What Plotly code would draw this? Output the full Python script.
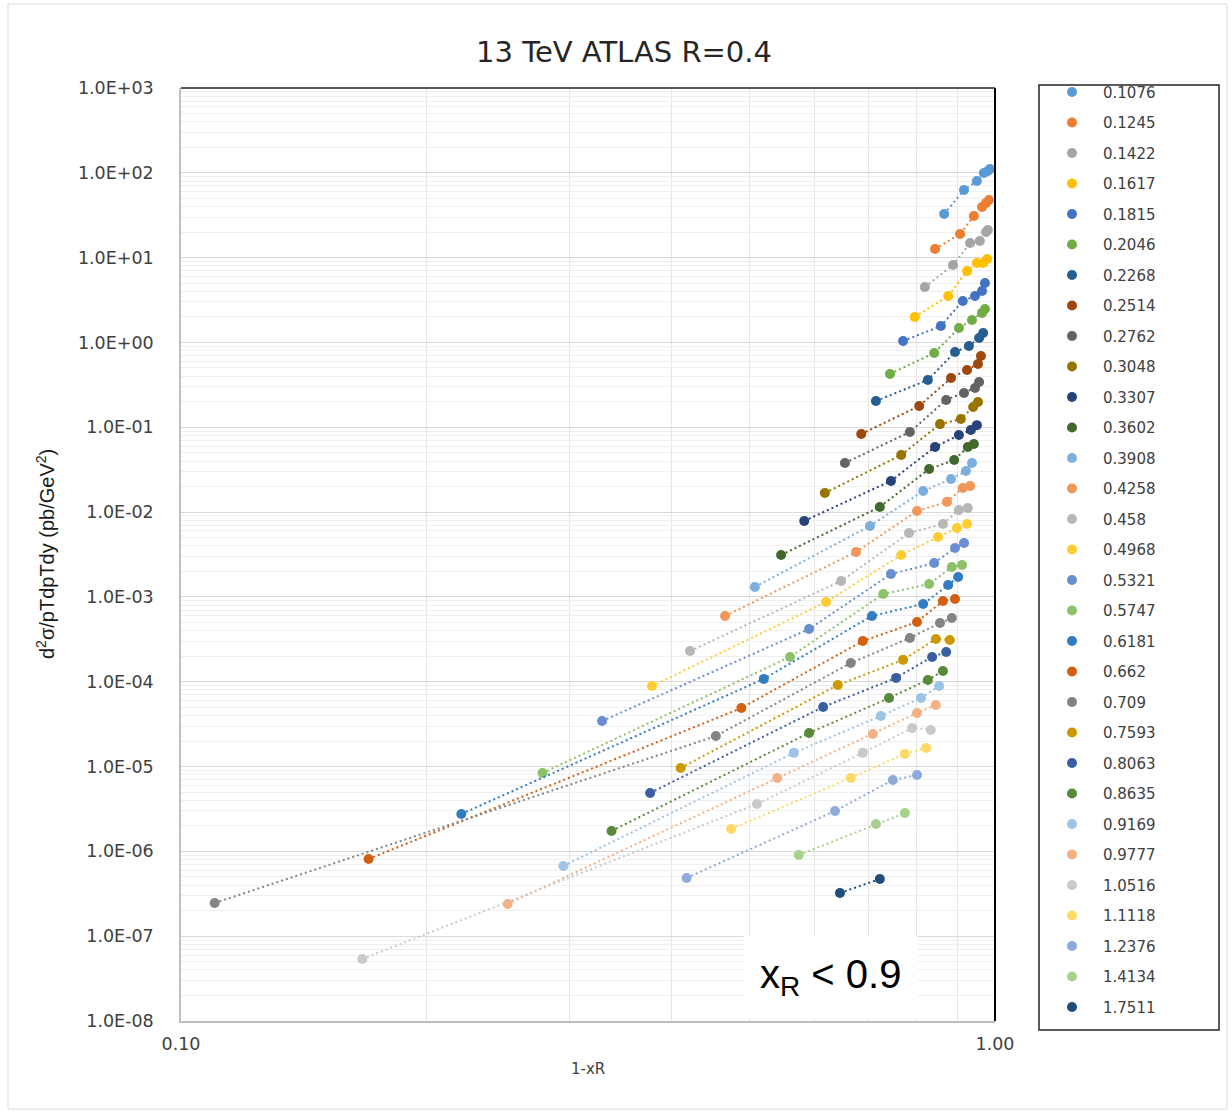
import plotly.graph_objects as go

# ---------------------------------------------------------------- data
# legend labels (jet pT bin, TeV) and series colours
pt_labels = ["0.1076", "0.1245", "0.1422", "0.1617", "0.1815", "0.2046", "0.2268",
             "0.2514", "0.2762", "0.3048", "0.3307", "0.3602", "0.3908", "0.4258",
             "0.458", "0.4968", "0.5321", "0.5747", "0.6181", "0.662", "0.709",
             "0.7593", "0.8063", "0.8635", "0.9169", "0.9777", "1.0516", "1.1118",
             "1.2376", "1.4134", "1.7511"]

colors = ["#5B9BD5", "#ED7D31", "#A5A5A5", "#FFC000", "#4472C4", "#70AD47", "#255E91",
          "#9E480E", "#636363", "#997300", "#264478", "#43682B", "#7CAFDD", "#F1975A",
          "#B7B7B7", "#FFCD33", "#698ED0", "#8CC168", "#327DC2", "#D26012", "#848484",
          "#CC9A00", "#3A5FA0", "#5A8A39", "#9DC3E6", "#F4B183", "#C9C9C9", "#FFD966",
          "#8FAADC", "#A9D18E", "#1F4E79"]

# 1 - xR  and  d2sigma/pT dpT dy  (pb/GeV^2) for every pT bin
x_0_1076 = [0.866, 0.916, 0.950, 0.969, 0.980, 0.986]
y_0_1076 = [32.7, 62.7, 80.1, 99.5, 105.0, 111.0]
x_0_1245 = [0.844, 0.906, 0.942, 0.964, 0.975, 0.983]
y_0_1245 = [12.65, 19.0, 31.0, 39.5, 44.1, 47.8]
x_0_1422 = [0.820, 0.888, 0.932, 0.958, 0.975, 0.980]
y_0_1422 = [4.51, 8.19, 14.9, 15.7, 20.1, 21.2]
x_0_1617 = [0.797, 0.876, 0.924, 0.950, 0.967, 0.978]
y_0_1617 = [2.00, 3.53, 6.96, 8.65, 8.65, 9.64]
x_0_1815 = [0.771, 0.858, 0.913, 0.945, 0.964, 0.972]
y_0_1815 = [1.04, 1.56, 3.08, 3.53, 4.04, 5.02]
x_0_2046 = [0.743, 0.842, 0.903, 0.937, 0.964, 0.972]
y_0_2046 = [0.425, 0.751, 1.48, 1.84, 2.23, 2.48]
x_0_2268 = [0.714, 0.827, 0.893, 0.929, 0.956, 0.967]
y_0_2268 = [0.204, 0.361, 0.772, 0.908, 1.13, 1.29]
x_0_2514 = [0.685, 0.807, 0.883, 0.924, 0.953, 0.961]
y_0_2514 = [0.0833, 0.178, 0.381, 0.474, 0.557, 0.693]
x_0_2762 = [0.654, 0.786, 0.871, 0.916, 0.945, 0.956]
y_0_2762 = [0.0379, 0.0880, 0.210, 0.254, 0.291, 0.342]
x_0_3048 = [0.618, 0.767, 0.856, 0.908, 0.940, 0.953]
y_0_3048 = [0.0168, 0.0471, 0.109, 0.125, 0.173, 0.199]
x_0_3307 = [0.583, 0.745, 0.844, 0.903, 0.934, 0.950]
y_0_3307 = [0.00786, 0.0233, 0.0586, 0.0811, 0.0929, 0.106]
x_0_3602 = [0.546, 0.722, 0.830, 0.891, 0.926, 0.942]
y_0_3602 = [0.00312, 0.0115, 0.0322, 0.0411, 0.0586, 0.0635]
x_0_3908 = [0.507, 0.702, 0.816, 0.883, 0.921, 0.937]
y_0_3908 = [0.00131, 0.00686, 0.0177, 0.0246, 0.0305, 0.0379]
x_0_4258 = [0.466, 0.675, 0.802, 0.873, 0.913, 0.932]
y_0_4258 = [0.000596, 0.00338, 0.0103, 0.0132, 0.0192, 0.0203]
x_0_458 = [0.422, 0.647, 0.784, 0.863, 0.903, 0.926]
y_0_458 = [0.000230, 0.00154, 0.00567, 0.00724, 0.0106, 0.0112]
x_0_4968 = [0.379, 0.620, 0.767, 0.851, 0.898, 0.924]
y_0_4968 = [8.91e-05, 0.000871, 0.00312, 0.00509, 0.00649, 0.00724]
x_0_5321 = [0.329, 0.591, 0.745, 0.842, 0.893, 0.916]
y_0_5321 = [3.44e-05, 0.000418, 0.00186, 0.00251, 0.00377, 0.00432]
x_0_5747 = [0.278, 0.560, 0.729, 0.830, 0.885, 0.911]
y_0_5747 = [8.39e-06, 0.000196, 0.00108, 0.00142, 0.00225, 0.00238]
x_0_6181 = [0.221, 0.520, 0.706, 0.816, 0.876, 0.901]
y_0_6181 = [2.76e-06, 0.000108, 0.000596, 0.000825, 0.00138, 0.00172]
x_0_662 = [0.170, 0.488, 0.688, 0.802, 0.863, 0.893]
y_0_662 = [8.13e-07, 4.90e-05, 0.000302, 0.000506, 0.000895, 0.000945]
x_0_709 = [0.110, 0.454, 0.665, 0.786, 0.856, 0.885]
y_0_709 = [2.46e-07, 2.29e-05, 0.000166, 0.000328, 0.000493, 0.000564]
x_0_7593 = [0.411, 0.641, 0.771, 0.846, 0.880]
y_0_7593 = [9.62e-06, 9.15e-05, 0.000181, 0.000319, 0.000311]
x_0_8063 = [0.377, 0.615, 0.756, 0.837, 0.871]
y_0_8063 = [4.88e-06, 5.04e-05, 0.000111, 0.000196, 0.000224]
x_0_8635 = [0.338, 0.591, 0.741, 0.827, 0.863]
y_0_8635 = [1.74e-06, 2.49e-05, 6.43e-05, 0.000105, 0.000134]
x_0_9169 = [0.295, 0.566, 0.724, 0.811, 0.854]
y_0_9169 = [6.73e-07, 1.45e-05, 3.95e-05, 6.43e-05, 8.91e-05]
x_0_9777 = [0.252, 0.540, 0.708, 0.802, 0.846]
y_0_9777 = [2.40e-07, 7.33e-06, 2.42e-05, 4.28e-05, 5.32e-05]
x_1_0516 = [0.167, 0.510, 0.688, 0.791, 0.834]
y_1_0516 = [5.38e-08, 3.62e-06, 1.45e-05, 2.85e-05, 2.70e-05]
x_1_1118 = [0.474, 0.665, 0.775, 0.823]
y_1_1118 = [1.84e-06, 7.33e-06, 1.41e-05, 1.66e-05]
x_1_2376 = [0.418, 0.636, 0.749, 0.802]
y_1_2376 = [4.86e-07, 2.99e-06, 6.94e-06, 7.95e-06]
x_1_4134 = [0.574, 0.714, 0.775]
y_1_4134 = [9.06e-07, 2.10e-06, 2.83e-06]
x_1_7511 = [0.645, 0.722]
y_1_7511 = [3.23e-07, 4.73e-07]

xs = [x_0_1076, x_0_1245, x_0_1422, x_0_1617, x_0_1815, x_0_2046, x_0_2268, x_0_2514,
      x_0_2762, x_0_3048, x_0_3307, x_0_3602, x_0_3908, x_0_4258, x_0_458, x_0_4968,
      x_0_5321, x_0_5747, x_0_6181, x_0_662, x_0_709, x_0_7593, x_0_8063, x_0_8635,
      x_0_9169, x_0_9777, x_1_0516, x_1_1118, x_1_2376, x_1_4134, x_1_7511]
ys = [y_0_1076, y_0_1245, y_0_1422, y_0_1617, y_0_1815, y_0_2046, y_0_2268, y_0_2514,
      y_0_2762, y_0_3048, y_0_3307, y_0_3602, y_0_3908, y_0_4258, y_0_458, y_0_4968,
      y_0_5321, y_0_5747, y_0_6181, y_0_662, y_0_709, y_0_7593, y_0_8063, y_0_8635,
      y_0_9169, y_0_9777, y_1_0516, y_1_1118, y_1_2376, y_1_4134, y_1_7511]

# axis ticks
y_tick_vals = [1e3, 1e2, 1e1, 1e0, 1e-1, 1e-2, 1e-3, 1e-4, 1e-5, 1e-6, 1e-7, 1e-8]
y_tick_text = ["1.0E+03", "1.0E+02", "1.0E+01", "1.0E+00", "1.0E-01", "1.0E-02",
               "1.0E-03", "1.0E-04", "1.0E-05", "1.0E-06", "1.0E-07", "1.0E-08"]
x_tick_vals = [0.1, 1.0]
x_tick_text = ["0.10", "1.00"]

# ---------------------------------------------------------------- layout geometry
W, H = 1232, 1112
PL, PR, PT, PB = 181, 995, 88, 1021      # plot-area edges in px


def px_x(px):
    return (px - PL) / (PR - PL)


def px_y(py):
    return (PB - py) / (PB - PT)


y_minor = [m * 10.0 ** e for e in range(-8, 3) for m in range(2, 10)]
x_minor = [m / 10 for m in range(2, 10)]

fig = go.Figure()

for name, col, xv, yv in zip(pt_labels, colors, xs, ys):
    fig.add_trace(go.Scatter(
        x=xv, y=yv, mode="lines", legendgroup=name, showlegend=False,
        line=dict(color=col, width=2, dash="2px,3px"), hoverinfo="skip"))
    fig.add_trace(go.Scatter(
        x=xv, y=yv, mode="markers", name=name, legendgroup=name,
        marker=dict(color=col, size=10, line=dict(width=0))))

tick_font = dict(family="DejaVu Sans", size=17.5, color="#404040")

fig.update_layout(
    width=W, height=H,
    margin=dict(l=PL, r=W - PR, t=PT, b=H - PB, pad=0),
    paper_bgcolor="white", plot_bgcolor="white",
    showlegend=True,
    title=dict(text="13 TeV ATLAS R=0.4", x=624 / W, xref="container", xanchor="center",
               y=1 - 52 / H, yref="container", yanchor="middle",
               font=dict(family="DejaVu Sans", size=29, color="#262626")),
    xaxis=dict(type="log", range=[-1, 0], tickmode="array", tickvals=x_tick_vals,
               ticktext=x_tick_text, tickfont=tick_font, ticks="", ticklabelstandoff=6,
               showgrid=False, zeroline=False, showline=True, linecolor="#BFBFBF",
               linewidth=1.5,
               minor=dict(tickmode="array", tickvals=x_minor, showgrid=True,
                          gridcolor="#E6E6E6", gridwidth=1, ticks="")),
    yaxis=dict(type="log", range=[-8, 3], tickmode="array", tickvals=y_tick_vals,
               ticktext=y_tick_text, tickfont=tick_font, ticks="", ticklabelstandoff=22,
               showgrid=True, gridcolor="#D9D9D9", gridwidth=1, zeroline=False,
               showline=True, linecolor="#BFBFBF", linewidth=1.5,
               minor=dict(tickmode="array", tickvals=y_minor, showgrid=True,
                          gridcolor="#EFEFEF", gridwidth=1, ticks="")),
    legend=dict(x=px_x(1041), y=px_y(75.75), xanchor="left", yanchor="top",
                bgcolor="rgba(0,0,0,0)", borderwidth=0, itemwidth=52,
                tracegroupgap=8, maxheight=1100,
                font=dict(family="DejaVu Sans", size=15, color="#404040")),
)

# frame lines: dark top edge, black right edge, legend box, outer chart border
fig.add_shape(type="line", xref="paper", yref="paper", x0=0, x1=1, y0=1, y1=1,
              line=dict(color="#595959", width=2))
fig.add_shape(type="line", xref="paper", yref="paper", x0=1, x1=1, y0=0, y1=1,
              line=dict(color="#000000", width=2))
fig.add_shape(type="rect", xref="paper", yref="paper",
              x0=px_x(1039), x1=px_x(1219), y0=px_y(1030), y1=px_y(85),
              line=dict(color="#262626", width=1.5), fillcolor="rgba(0,0,0,0)")
fig.add_shape(type="rect", xref="paper", yref="paper",
              x0=px_x(8), x1=px_x(1227), y0=px_y(1109), y1=px_y(4),
              line=dict(color="#D9D9D9", width=1), fillcolor="rgba(0,0,0,0)")

# axis titles and the cut label
fig.add_annotation(text="d<sup>2</sup>σ/pTdpTdy (pb/GeV<sup>2</sup>)", textangle=-90,
                   xref="paper", yref="paper", x=px_x(45), y=px_y(554),
                   xanchor="center", yanchor="middle", showarrow=False,
                   font=dict(family="Liberation Sans", size=20, color="#1a1a1a"))
fig.add_annotation(text="1-xR", xref="paper", yref="paper", x=px_x(588), y=px_y(1069),
                   xanchor="center", yanchor="middle", showarrow=False,
                   font=dict(family="DejaVu Sans", size=15, color="#404040"))
fig.add_annotation(text="x<sub>R</sub> &lt; 0.9", xref="paper", yref="paper",
                   x=px_x(830), y=px_y(977), xanchor="center", yanchor="middle",
                   showarrow=False, bgcolor="white", borderpad=16,
                   font=dict(family="Liberation Sans", size=40, color="#000000"))

fig.write_html("out.html")
